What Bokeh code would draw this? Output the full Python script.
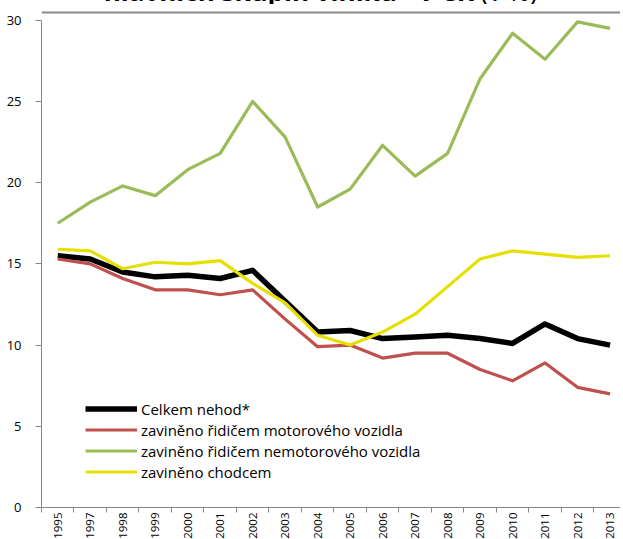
import math
from bokeh.plotting import figure
from bokeh.models import Range1d, FixedTicker, Legend, LegendItem, Div
from bokeh.layouts import column
from bokeh.embed import file_html
from bokeh.resources import INLINE

years = ["1995", "1997", "1998", "1999", "2000", "2001", "2002", "2003", "2004",
         "2005", "2006", "2007", "2008", "2009", "2010", "2011", "2012", "2013"]
celkem = [15.5, 15.3, 14.5, 14.2, 14.3, 14.1, 14.6, 12.7, 10.8, 10.9, 10.4, 10.5,
          10.6, 10.4, 10.1, 11.3, 10.4, 10.0]
motorova = [15.3, 15.0, 14.1, 13.4, 13.4, 13.1, 13.4, 11.6, 9.9, 10.0, 9.2, 9.5,
            9.5, 8.5, 7.8, 8.9, 7.4, 7.0]
nemotorova = [17.5, 18.8, 19.8, 19.2, 20.8, 21.8, 25.0, 22.8, 18.5, 19.6, 22.3, 20.4,
              21.8, 26.4, 29.2, 27.6, 29.9, 29.5]
chodci = [15.9, 15.8, 14.7, 15.1, 15.0, 15.2, 13.8, 12.6, 10.6, 10.0, 10.8, 11.9,
          13.6, 15.3, 15.8, 15.6, 15.4, 15.5]
y_ticks = [0, 5, 10, 15, 20, 25, 30]
series_names = ["Celkem nehod*", "zaviněno řidičem motorového vozidla",
                "zaviněno řidičem nemotorového vozidla", "zaviněno chodcem"]
title_bold = "hlavních skupin viníků - v ČR"
title_rest = "(v %)"
top_rule = [30.45]

FONT = "Open Sans"
AXIS_GRAY = "#878787"
xs = list(range(len(years)))

W = 617
LEFT = 36
frame_w = W - LEFT
cat_px = 32.6
Y_TOP = 30.6
p = figure(width=W, height=536, output_backend="svg", toolbar_location=None,
           x_range=Range1d(-0.5, -0.5 + frame_w / cat_px), y_range=Range1d(0, Y_TOP),
           min_border_left=LEFT, min_border_right=0, min_border_top=1,
           min_border_bottom=38)
p.outline_line_color = None
p.xgrid.grid_line_color = None
p.ygrid.grid_line_color = None
p.border_fill_color = "white"
p.background_fill_color = "white"

# top rule of the chart area
p.hspan(y=top_rule, line_color="#888888", line_width=2)

# y axis
ya = p.yaxis[0]
ya.ticker = FixedTicker(ticks=y_ticks)
ya.bounds = (0, 30)
ya.axis_line_color = AXIS_GRAY
ya.major_tick_line_color = AXIS_GRAY
ya.major_tick_out = 6
ya.major_tick_in = 0
ya.minor_tick_line_color = None
ya.major_label_standoff = 14
ya.major_label_text_font = FONT
ya.major_label_text_font_size = "13px"
ya.major_label_text_color = "#000000"

# x axis
xa = p.xaxis[0]
xa.ticker = FixedTicker(ticks=xs, minor_ticks=[i - 0.5 for i in range(len(years) + 1)])
xa.major_label_overrides = {i: y for i, y in enumerate(years)}
xa.axis_line_color = AXIS_GRAY
xa.major_tick_line_color = None
xa.major_tick_out = 0
xa.major_tick_in = 0
xa.minor_tick_line_color = AXIS_GRAY
xa.minor_tick_out = 5
xa.minor_tick_in = 0
xa.major_label_orientation = math.pi / 2
xa.major_label_standoff = 0
xa.major_label_text_font = FONT
xa.major_label_text_font_size = "11.5px"
xa.major_label_text_color = "#000000"

colors = ["#000000", "#C0504D", "#9BBB59", "#E6E000"]
widths = [5.5, 3.2, 3.2, 3.2]
data = [celkem, motorova, nemotorova, chodci]
items = []
for name, col, w, vals in zip(series_names, colors, widths, data):
    r = p.line(xs, vals, line_color=col, line_width=w, line_join="round")
    items.append(LegendItem(label=name, renderers=[r]))

legend = Legend(items=items, location=(44, 25))
legend.glyph_width = 52
legend.glyph_height = 21
legend.label_height = 21
legend.spacing = 0
legend.padding = 0
legend.margin = 0
legend.label_standoff = 4
legend.border_line_color = None
legend.background_fill_alpha = 0
legend.label_text_font = FONT
legend.label_text_font_size = "15px"
legend.label_text_color = "#000000"
p.add_layout(legend)

title_html = (
    '<div style="box-sizing:border-box;width:%dpx;height:28px;overflow:hidden;'
    'text-align:center;font-family:\'Open Sans\';font-size:26px;line-height:31px;'
    'color:#000;padding-left:8px;">'
    '<b>%s</b> %s</div>' % (W, title_bold, title_rest)
)
title = Div(text=title_html, width=W, height=28)

layout = column(title, p, spacing=0, margin=(-29, -13, -16, 3))

open("out.html", "w").write(file_html(layout, INLINE))
